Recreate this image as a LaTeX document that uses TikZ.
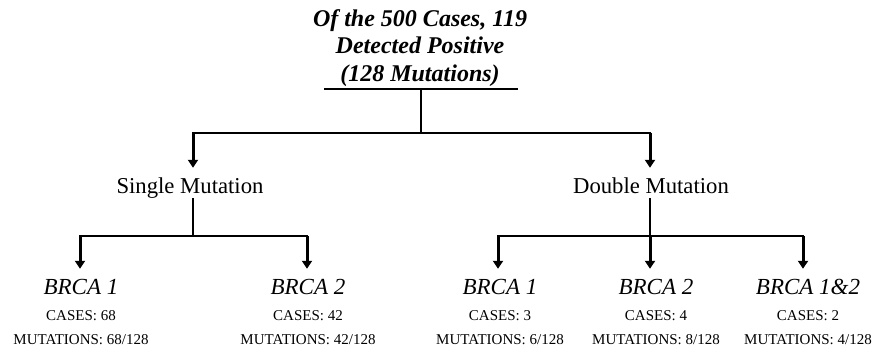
\documentclass[tikz,border=0pt]{standalone}
\usepackage{fontspec}
\setmainfont{Liberation Serif}
\usetikzlibrary{arrows.meta, positioning, calc}
\tikzset{
    treeLine/.style={line width=2pt, black, line cap=rect},
    treeArrow/.style={line width=3pt, black, -{Triangle[length=8pt, width=10pt]}, shorten >=9pt},
    titleText/.style={font=\fontsize{24}{27.5}\selectfont\bfseries\itshape, align=center, inner sep=0pt},
    groupText/.style={font=\fontsize{22.7}{26}\selectfont, inner sep=0pt, text height=17pt, text depth=5pt, anchor=base},
    geneText/.style={font=\fontsize{23}{26}\selectfont\itshape, inner sep=0pt, text height=16pt, text depth=5pt, anchor=base},
    countText/.style={font=\fontsize{15}{18}\selectfont, inner sep=0pt, anchor=base}
}

\begin{document}
\begin{tikzpicture}[x=1pt, y=-1pt]
    \useasboundingbox (0,0) rectangle (877,347);

    % --- TOP ---
    \node[titleText] (title) at (420,48) {Of the 500 Cases, 119\\Detected Positive\\(128 Mutations)};
    \coordinate (ulL) at (325,89);
    \coordinate (ulR) at (517,89);
    \coordinate (ulMid) at (421,89);
    \coordinate (mainMid) at (421,133);
    \coordinate (mainL) at (193,133);
    \coordinate (mainR) at (650,133);
    \draw[treeLine] (ulL) -- (ulR);
    \draw[treeLine] (ulMid) -- (mainMid);
    \draw[treeLine] (mainL) -- (mainR);

    % --- GROUPS ---
    \node[groupText] (single) at (190,194) {Single Mutation};
    \node[groupText] (double) at (651,194) {Double Mutation};
    \draw[treeArrow] (mainL) -- (mainL |- single.north);
    \draw[treeArrow] (mainR) -- (mainR |- double.north);

    % --- LEAVES ---
    \foreach \nm/\gx/\gene/\cs/\mt in {sA/81/{BRCA 1}/68/68, sB/308/{BRCA 2}/42/42,
        dA/500/{BRCA 1}/3/6, dB/656/{BRCA 2}/4/8, dC/808/{BRCA 1\&2}/2/4} {
        \node[geneText] (\nm) at (\gx,294) {\gene};
        \node[countText] (\nm cs) at (\gx,320.5) {CASES: \cs};
        \node[countText] (\nm mt) at (\gx,344) {MUTATIONS: \mt/128};
    }

    % single branch
    \coordinate (sMid) at (193,236);
    \coordinate (sBarL) at (80,236);
    \coordinate (sBarR) at (307,236);
    \draw[treeLine] (single.south -| sMid) -- (sMid);
    \draw[treeLine] (sBarL) -- (sBarR);
    \draw[treeArrow] (sBarL) -- (sBarL |- sA.north);
    \draw[treeArrow] (sBarR) -- (sBarR |- sB.north);

    % double branch
    \coordinate (dMid) at (650,236);
    \coordinate (dBarL) at (498,236);
    \coordinate (dBarR) at (803,236);
    \draw[treeLine] (double.south -| dMid) -- (dMid);
    \draw[treeLine] (dBarL) -- (dBarR);
    \draw[treeArrow] (dBarL) -- (dBarL |- dA.north);
    \draw[treeArrow] (dMid) -- (dMid |- dB.north);
    \draw[treeArrow] (dBarR) -- (dBarR |- dC.north);

\end{tikzpicture}
\end{document}
